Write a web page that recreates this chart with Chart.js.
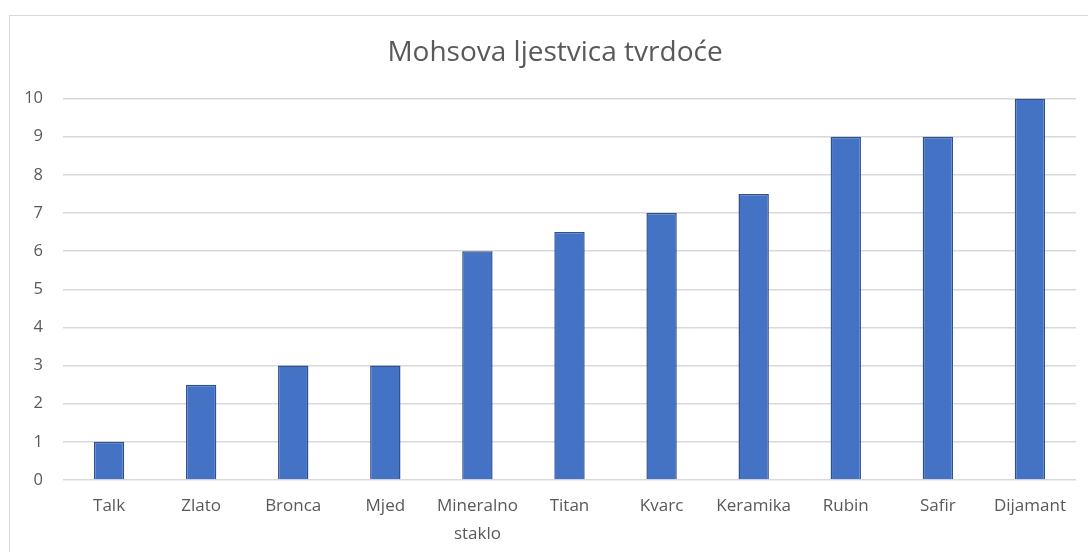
<!DOCTYPE html>
<html>
<head>
<meta charset="utf-8">
<script src="https://cdn.jsdelivr.net/npm/chart.js@4/dist/chart.umd.min.js"></script>
<style>
	html, body { margin: 0; padding: 0; background: #fff; overflow: hidden; }
	#frame { position: absolute; left: 9px; top: 15px; width: 1200px; height: 700px; border: 1px solid #d9d9d9; }
	#wrap { position: absolute; left: 0; top: 0; width: 1110px; height: 552px; }
</style>
</head>
<body>
<div id="frame"></div>
<div id="wrap"><canvas id="grafik"></canvas></div>
<script>
var judul = 'Mohsova ljestvica tvrdoće';
var mineral = ['Talk', 'Zlato', 'Bronca', 'Mjed', ['Mineralno', 'staklo'], 'Titan', 'Kvarc', 'Keramika', 'Rubin', 'Safir', 'Dijamant'];
var tvrdoca = [1, 2.5, 3, 3, 6, 6.5, 7, 7.5, 9, 9, 10];
var skala = [0, 1, 2, 3, 4, 5, 6, 7, 8, 9, 10];

var teks = '#595959';

var chartdata = {
	labels: mineral,
	datasets: [
		{
			label: judul,
			backgroundColor: '#4472c4',
			borderColor: '#2f528f',
			borderWidth: 1.5,
			barPercentage: 0.33,
			categoryPercentage: 1,
			data: tvrdoca
		}
	]
};

var ctx = document.getElementById('grafik');

var barGraph = new Chart(ctx, {
	type: 'bar',
	data: chartdata,
	options: {
		responsive: true,
		maintainAspectRatio: false,
		animation: false,
		layout: { padding: 0 },
		plugins: {
			legend: { display: false },
			tooltip: { enabled: false },
			title: {
				display: true,
				text: judul,
				color: teks,
				font: { family: 'Open Sans', size: 28, weight: 'normal' },
				padding: { top: 36, bottom: 29 }
			}
		},
		scales: {
			x: {
				grid: { display: false, drawTicks: false },
				border: { display: false },
				ticks: {
					color: teks,
					font: { family: 'Open Sans', size: 17, lineHeight: 1.6 },
					padding: 13,
					maxRotation: 0,
					autoSkip: false
				},
				afterFit: function (scale) { scale.height = 72; }
			},
			y: {
				min: 0,
				max: 10,
				grid: { color: '#d9d9d9', lineWidth: 1.5, drawTicks: false },
				border: { display: false },
				ticks: {
					color: teks,
					font: { family: 'Open Sans', size: 16.5 },
					padding: 20,
					stepSize: 1,
					callback: function (v) { return skala.indexOf(v) >= 0 ? v : ''; }
				},
				afterFit: function (scale) { scale.width = 63; }
			},
			kanan: {
				position: 'right',
				grid: { display: false, drawTicks: false },
				border: { display: false },
				ticks: { display: false },
				afterFit: function (scale) { scale.width = 34; }
			}
		}
	}
});
</script>
</body>
</html>
